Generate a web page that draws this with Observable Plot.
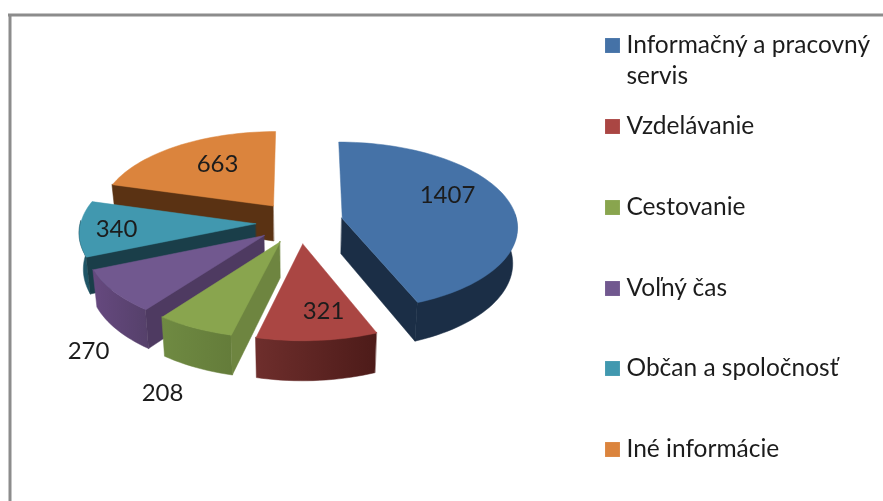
<!DOCTYPE html>
<html><head><meta charset="utf-8">
<script src="https://cdn.jsdelivr.net/npm/d3@7"></script>
<script src="https://cdn.jsdelivr.net/npm/@observablehq/plot@0.6"></script>
<style>html,body{margin:0;padding:0;background:#fff}svg{display:block;filter:blur(0.35px)}</style>
</head><body><div id="chart"></div>
<script>
const categories = ["Informačný a pracovný servis","Vzdelávanie","Cestovanie","Voľný čas","Občan a spoločnosť","Iné informácie"];
const values = [1407,321,208,270,340,663];
const topColors = ["#4572A7","#AA4643","#89A54E","#71588F","#4198AF","#DB843D"];
const wallColors = ["#1B2E46","#6E2E2C","#6E8540","#4E3A61","#1A3E49","#5A3213"];
const rimFrom = ["#1B2E46","#6E2E2C","#6F8A42","#66497F","#1F5566","#5A3213"];
const rimTo = ["#1B2E46","#4D1B19","#647C3A","#55406A","#1F5566","#5A3213"];
const legendLines = [["Informačný a pracovný","servis"],["Vzdelávanie"],["Cestovanie"],["Voľný čas"],["Občan a spoločnosť"],["Iné informácie"]];
const legendRows = [45,126,207,288,368,449];
const labelSpots = [[447,195],[323,311],[162,393],[88,351],[116,229],[217,164]];
const drawOrder = [5,4,3,0,2,1];

const W=883,H=501,cx=299,cy=222,R=175,Ry=84,k=0.09,depth=36,burst=0.25,lean=0.98;
const total=d3.sum(values);
const rad=d=>d*Math.PI/180;
let cum=0;
const slices=values.map((v,i)=>{const a0=cum;cum+=v/total*2*Math.PI;return {i,a0,a1:cum};});
function project(s,px,py){
  const m=(s.a0+s.a1)/2;
  const X=burst*Math.sin(m)+px, Y=-burst*Math.cos(m)+py;
  const f=1/(1-k*Y);
  const x=cx+R*X*f;
  return {x, y:cy+Ry*Y*f, x2:cx+(x-cx)*lean, y2:cy+Ry*Y*f+depth*f};
}
const onRim=(s,a)=>project(s,Math.sin(a),-Math.cos(a));
function arc(s,a0,a1,n){return d3.range(n+1).map(j=>onRim(s,a0+(a1-a0)*j/n));}
const marks=[];
marks.push(()=>{
  const defs=d3.create("svg:defs");
  slices.forEach(({i})=>{
    const g=defs.append("linearGradient").attr("id","rim"+i);
    g.append("stop").attr("offset","0%").attr("stop-color",rimFrom[i]);
    g.append("stop").attr("offset","100%").attr("stop-color",rimTo[i]);
  });
  return defs.node();
});
marks.push(Plot.ruleX([9.5],{y1:14.5,y2:H,stroke:"#8c8c8c",strokeWidth:3}));
marks.push(Plot.ruleY([14.5],{x1:8,x2:W,stroke:"#8c8c8c",strokeWidth:3}));
for(const i of drawOrder){
  const s=slices[i];
  const apex=project(s,0,0);
  const walls=[];
  if(s.a0>Math.PI) walls.push([apex,onRim(s,s.a0)]);
  if(s.a1<Math.PI) walls.push([apex,onRim(s,s.a1)]);
  const from=Math.max(s.a0,rad(88)), to=Math.min(s.a1,rad(272));
  if(to>from){
    const n=Math.ceil((to-from)/rad(2));
    const rim=arc(s,from,to,n).map(p=>({...p,c:`url(#rim${i})`}));
    marks.push(Plot.area(rim,{x1:"x",y1:"y",x2:"x2",y2:"y2",fill:"c",stroke:"c",strokeWidth:0.5}));
  }
  for(const w of walls){
    marks.push(Plot.area(w,{x1:"x",y1:"y",x2:"x2",y2:"y2",fill:wallColors[i],stroke:wallColors[i],strokeWidth:0.5}));
  }
  const face=[apex,...arc(s,s.a0,s.a1,Math.ceil((s.a1-s.a0)/rad(2))),apex];
  marks.push(Plot.line(face,{x:"x",y:"y",fill:topColors[i],stroke:topColors[i],strokeWidth:0.5}));
}
const font={fontFamily:"Lato",fill:"#1c1c1c"};
marks.push(Plot.text(values,{x:(d,i)=>labelSpots[i][0],y:(d,i)=>labelSpots[i][1],text:d=>String(d),fontSize:24,...font}));
marks.push(Plot.dot(categories,{x:()=>612,y:(d,i)=>legendRows[i],symbol:"square",r:8.4,fill:(d,i)=>topColors[i]}));
const legendText=legendLines.flatMap((lines,i)=>lines.map((t,j)=>({t,y:legendRows[i]+j*31})));
marks.push(Plot.text(legendText,{x:()=>626,y:"y",text:"t",textAnchor:"start",fontSize:24.5,...font}));
const chart=Plot.plot({width:W,height:H,margin:0,
  x:{domain:[0,W],range:[0,W],axis:null},
  y:{domain:[0,H],range:[0,H],axis:null},
  color:{type:"identity"},marks});
document.getElementById("chart").append(chart);
</script></body></html>
